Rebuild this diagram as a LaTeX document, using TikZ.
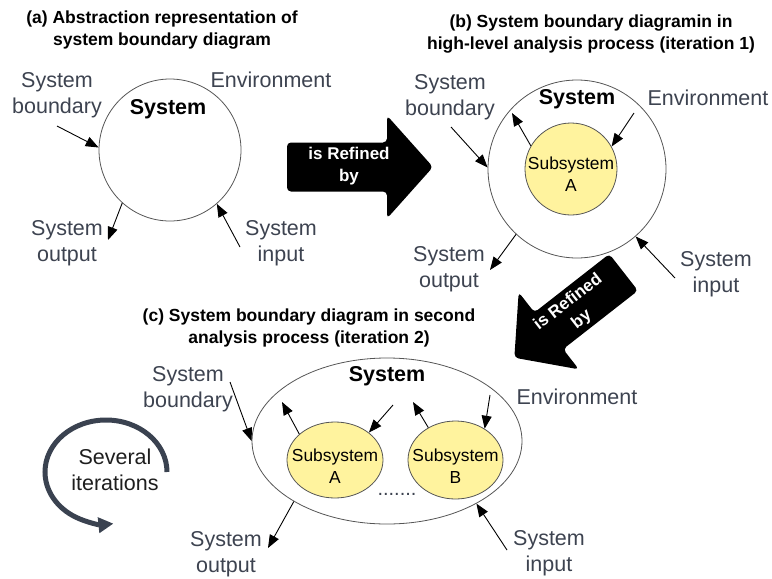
\documentclass[tikz,border=0pt]{standalone}
\usepackage{fontspec}
\setmainfont{Liberation Sans}
\usetikzlibrary{arrows.meta,shapes.geometric}

\definecolor{labelgray}{RGB}{61,67,80}
\definecolor{arcgray}{RGB}{58,66,80}
\definecolor{subyellow}{RGB}{255,243,158}
\definecolor{rimgray}{RGB}{85,85,85}

\tikzset{
  lbl/.style={text=labelgray, font=\fontsize{21.5}{26}\selectfont, align=center, inner sep=0pt},
  ttl/.style={font=\fontsize{17.5}{21.5}\selectfont\bfseries, align=center, inner sep=0pt},
  sysname/.style={font=\fontsize{21.5}{26}\selectfont\bfseries, inner sep=0pt},
  bound/.style={circle, draw=rimgray, line width=0.8pt, inner sep=0pt},
  boundell/.style={ellipse, draw=rimgray, line width=0.8pt, inner sep=0pt},
  subsys/.style={draw=rimgray, fill=subyellow, line width=0.8pt, inner sep=0pt},
  subtxt/.style={font=\fontsize{17.4}{22}\selectfont, align=center, inner sep=0pt},
  flow/.style={-{Triangle[length=13pt,width=10pt]}, line width=0.9pt},
  bigarrow/.style={fill=black, rounded corners=4pt},
  bigtext/.style={text=white, font=\fontsize{17}{22}\selectfont\bfseries, align=center, inner sep=0pt},
}

\begin{document}
\begin{tikzpicture}[x=1pt, y=-1pt]
\useasboundingbox (0,0) rectangle (772,579);

% ---------- (a) abstraction ----------
\node[ttl] (titleA) at (162,30) {(a) Abstraction representation of\\system boundary diagram};
\node[bound, minimum size=142pt] (circA) at (170,150) {};
\node[sysname] (sysA) at (168,109) {System};
\node[lbl] (bndA) at (57,95) {System\\boundary};
\node[lbl] (envA) at (271,80) {Environment};
\node[lbl] (outA) at (67,243) {System\\output};
\node[lbl] (inA) at (281,243) {System\\input};
\coordinate (bndAfrom) at (57,126);
\coordinate (outAto) at (108,240);
\coordinate (inAfrom) at (240,247);
\draw[flow] (bndAfrom) -- (circA.178);
\draw[flow] (circA.228) -- (outAto);
\draw[flow] (inAfrom) -- (circA.311);

% ---------- refinement arrow a -> b ----------
\begin{scope}[shift={(360,167)}, x=1pt, y=1pt]
  \fill[bigarrow] (-73,-24.5) -- (27,-24.5) -- (27,-51.5) -- (73,0) -- (27,51.5) -- (27,24.5) -- (-73,24.5) -- cycle;
\end{scope}
\node[bigtext] (refA) at (349,166) {is Refined\\by};

% ---------- (b) iteration 1 ----------
\node[ttl] (titleB) at (591,34) {(b) System boundary diagramin in\\high-level analysis process (iteration 1)};
\node[bound, minimum size=178pt] (circB) at (577,169) {};
\node[subsys, circle, minimum size=92pt] (subA1) at (571,169) {};
\node[subtxt] (subA1txt) at (571,174) {Subsystem\\A};
\node[sysname] (sysB) at (577,99) {System};
\node[lbl] (bndB) at (450,97) {System\\boundary};
\node[lbl] (envB) at (708,98) {Environment};
\node[lbl] (outB) at (449,269) {System\\output};
\node[lbl] (inB) at (716,274) {System\\input};
\coordinate (bndBfrom) at (451,127);
\coordinate (envBfrom) at (634,113);
\coordinate (subA1to) at (512,113);
\coordinate (outBto) at (490,270);
\coordinate (inBfrom) at (675,278);
\draw[flow] (bndBfrom) -- (circB.179);
\draw[flow] (envBfrom) -- (subA1.29);
\draw[flow] (subA1.150) -- (subA1to);
\draw[flow] (circB.227) -- (outBto);
\draw[flow] (inBfrom) -- (circB.311);

% ---------- refinement arrow b -> c ----------
\begin{scope}[shift={(569,315)}, x=0.95pt, y=0.95pt, rotate=218]
  \fill[bigarrow] (-73,-24.5) -- (27,-24.5) -- (27,-51.5) -- (73,0) -- (27,51.5) -- (27,24.5) -- (-73,24.5) -- cycle;
\end{scope}
\node[bigtext, rotate=38] (refB) at (575,311) {is Refined\\by};

% ---------- (c) iteration 2 ----------
\node[ttl] (titleC) at (309,328) {(c) System boundary diagram in second\\analysis process (iteration 2)};
\node[boundell, minimum width=270pt, minimum height=166pt] (ellC) at (387,441) {};
\node[sysname] (sysC) at (387,376) {System};
\node[subsys, ellipse, minimum width=96pt, minimum height=76pt] (subCA) at (335,460) {};
\node[subtxt] (subCAtxt) at (335,466) {Subsystem\\A};
\node[subsys, ellipse, minimum width=95pt, minimum height=78pt] (subCB) at (455.5,460) {};
\node[subtxt] (subCBtxt) at (455.5,466) {Subsystem\\B};
\node[text=labelgray, font=\fontsize{20}{22}\selectfont, inner sep=0pt] (dots) at (397,494) {.......};
\node[lbl] (bndC) at (188,389) {System\\boundary};
\node[lbl] (envC) at (577,397) {Environment};
\node[lbl] (outC) at (226,554) {System\\output};
\node[lbl] (inC) at (549,553) {System\\input};
\coordinate (bndCfrom) at (230,382);
\coordinate (subCAto) at (282,402);
\coordinate (subCAfrom) at (393,405);
\coordinate (subCBto) at (413,402);
\coordinate (subCBfrom) at (490,395);
\coordinate (outCto) at (268,548);
\coordinate (inCfrom) at (507,550);
\draw[flow] (bndCfrom) -- (ellC.180);
\draw[flow] (subCA.144) -- (subCAto);
\draw[flow] (subCAfrom) -- (subCA.39);
\draw[flow] (subCB.130) -- (subCBto);
\draw[flow] (subCBfrom) -- (subCB.47);
\draw[flow] (ellC.213) -- (outCto);
\draw[flow] (inCfrom) -- (ellC.325);

% ---------- repeated iterations ----------
\coordinate (itStart) at (167,472);
\draw[arcgray, line width=5pt, -{Triangle[length=15pt,width=15pt]}]
  (itStart) arc[start angle=0, end angle=277, x radius=61pt, y radius=52pt];
\node[font=\fontsize{21.5}{26}\selectfont, text={rgb,255:red,30;green,30;blue,30}, align=center, inner sep=0pt] (several) at (115,470) {Several\\iterations};

\end{tikzpicture}
\end{document}
